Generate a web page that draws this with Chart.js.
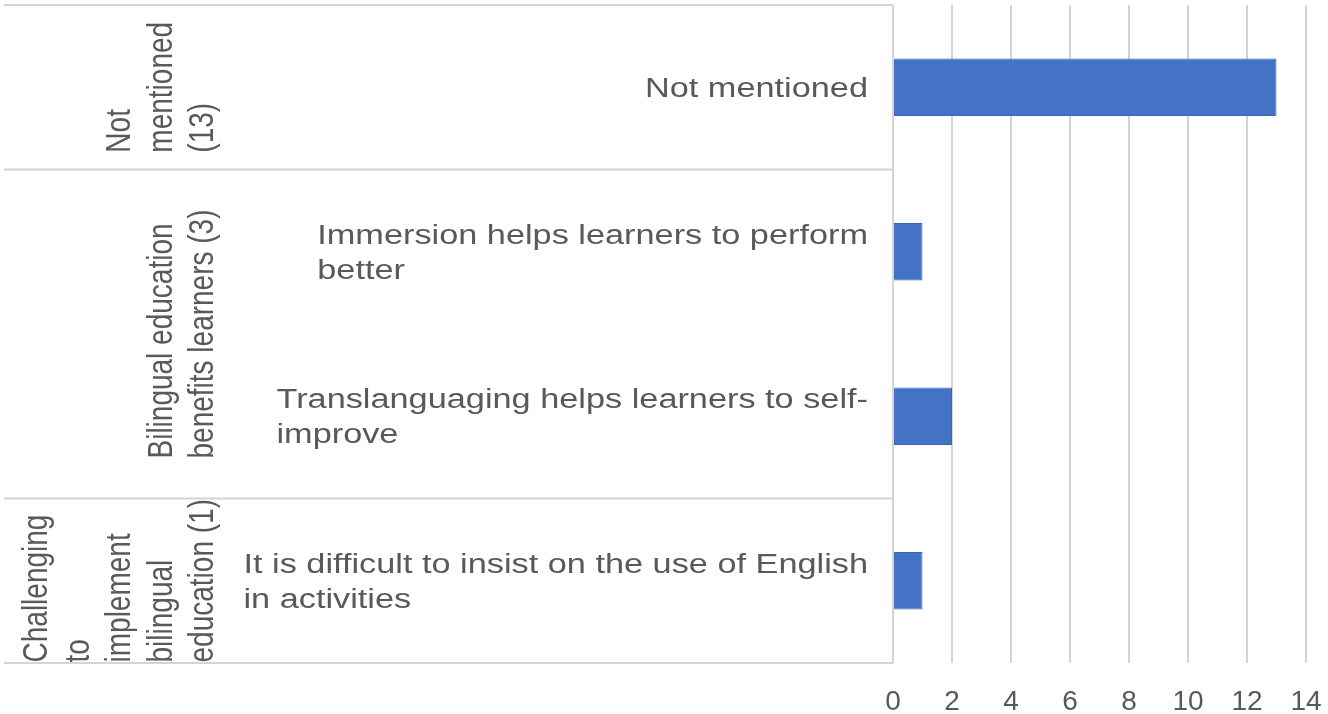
<!DOCTYPE html>
<html>
<head>
<meta charset="utf-8">
<script src="https://cdn.jsdelivr.net/npm/chart.js@4.4.1/dist/chart.umd.min.js"></script>
<style>
  html, body { margin: 0; padding: 0; background: #ffffff; }
  #wrap { width: 1328px; height: 714px; position: relative; }
</style>
</head>
<body>
<div id="wrap"><canvas id="c" width="1328" height="714"></canvas></div>
<script>
// ---- data ----
const categories = [
  ["Not mentioned"],
  ["Immersion helps learners to perform", "better"],
  ["Translanguaging helps learners to self-", "improve"],
  ["It is difficult to insist on the use of English", "in activities"]
];
const values = [13, 1, 2, 1];
const groupLabels = [
  ["Not", "mentioned", "(13)"],
  ["Bilingual education", "benefits learners (3)"],
  ["Challenging", "to", "implement", "bilingual", "education (1)"]
];
const groupSizes = [1, 2, 1];
const xMin = 0, xMax = 14, xStep = 2;

// ---- style ----
const TEXT = '#595959';
const GRID = '#d4d4d4';
const BAR = '#4472C4';
const FONT = '"Liberation Sans", Arial, sans-serif';
const STRETCH = 1.27;

const labelPlugin = {
  id: 'labelPlugin',
  afterDraw(chart) {
    const ctx = chart.ctx;
    const y = chart.scales.y;
    const area = chart.chartArea;
    const half = (y.getPixelForValue(1) - y.getPixelForValue(0)) / 2;
    const topOf = i => y.getPixelForValue(i) - half;
    const botOf = i => y.getPixelForValue(i) + half;

    // separator lines between groups (and top/bottom)
    ctx.save();
    ctx.strokeStyle = GRID;
    ctx.lineWidth = 2;
    let idx = 0;
    const bounds = [topOf(0)];
    groupSizes.forEach(s => { idx += s; bounds.push(botOf(idx - 1)); });
    bounds.forEach(py => {
      ctx.beginPath();
      ctx.moveTo(4, py);
      ctx.lineTo(area.left, py);
      ctx.stroke();
    });
    ctx.restore();

    // category labels (multi-line, block right aligned, lines left aligned)
    const catSize = 27;
    const lineH = 35;
    const cap = 0.716 * catSize;
    const rightEdge = area.left - 25;
    ctx.save();
    ctx.fillStyle = TEXT;
    ctx.font = catSize + 'px ' + FONT;
    ctx.textAlign = 'left';
    ctx.textBaseline = 'alphabetic';
    categories.forEach((lines, i) => {
      const cy = y.getPixelForValue(i);
      const maxW = Math.max(...lines.map(l => ctx.measureText(l).width)) * STRETCH;
      const left = rightEdge - maxW;
      lines.forEach((l, j) => {
        const lc = cy + (j - (lines.length - 1) / 2) * lineH;
        ctx.save();
        ctx.translate(left, lc + cap / 2);
        ctx.scale(STRETCH, 1);
        ctx.fillText(l, 0, 0);
        ctx.restore();
      });
    });
    ctx.restore();

    // group labels (rotated)
    const gSize = 28;
    const gStretch = 1.24;
    const gSpacing = 41.5;
    const lastBaseX = 213;
    ctx.save();
    ctx.fillStyle = TEXT;
    ctx.font = gSize + 'px ' + FONT;
    ctx.textAlign = 'left';
    ctx.textBaseline = 'alphabetic';
    let start = 0;
    groupLabels.forEach((lines, g) => {
      const t = topOf(start);
      const b = botOf(start + groupSizes[g] - 1);
      const cy = (t + b) / 2;
      const maxL = Math.max(...lines.map(l => ctx.measureText(l).width));
      const sy = cy + maxL / 2;
      lines.forEach((l, j) => {
        const bx = lastBaseX - (lines.length - 1 - j) * gSpacing;
        ctx.save();
        ctx.translate(bx, sy);
        ctx.scale(gStretch, 1);
        ctx.rotate(-Math.PI / 2);
        ctx.fillText(l, 0, 0);
        ctx.restore();
      });
      start += groupSizes[g];
    });
    ctx.restore();
  }
};

new Chart(document.getElementById('c'), {
  type: 'bar',
  data: {
    labels: categories,
    datasets: [{
      data: values,
      backgroundColor: BAR,
      borderColor: '#3b67b8',
      borderWidth: 1,
      barPercentage: 0.35,
      categoryPercentage: 1.0
    }]
  },
  options: {
    indexAxis: 'y',
    responsive: false,
    animation: false,
    devicePixelRatio: 1,
    layout: { padding: { top: 5, right: 22, left: 0, bottom: 0 } },
    plugins: { legend: { display: false }, tooltip: { enabled: false } },
    scales: {
      x: {
        min: xMin, max: xMax,
        ticks: { stepSize: xStep, color: TEXT, font: { family: FONT, size: 28 }, padding: 22 },
        grid: { color: GRID, lineWidth: 2, drawTicks: false },
        border: { display: false },
        afterFit: s => { s.height = 51; s.paddingRight = 0; s.paddingLeft = 0; }
      },
      y: {
        ticks: { display: false },
        grid: { display: false },
        border: { display: false },
        afterFit: s => { s.width = 893; s.paddingTop = 0; s.paddingBottom = 0; }
      }
    }
  },
  plugins: [labelPlugin]
});
</script>
</body>
</html>
